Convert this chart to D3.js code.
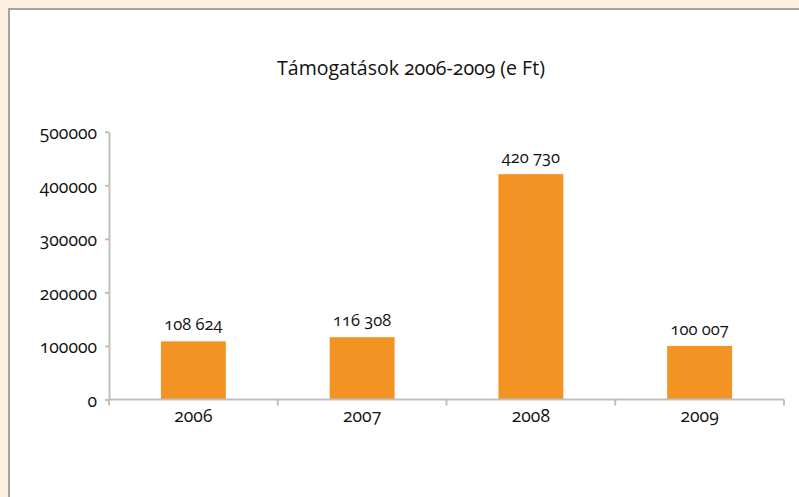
<!DOCTYPE html>
<html>
<head>
<meta charset="utf-8">
<script src="https://cdn.jsdelivr.net/npm/d3@7/dist/d3.min.js"></script>
<style>
  html, body { margin: 0; padding: 0; background: #FDEFDF; }
  svg { display: block; }
  text { font-family: "Open Sans", "Noto Sans", sans-serif; font-variant-numeric: oldstyle-nums; fill: #111; }
</style>
</head>
<body>
<svg id="chart" width="799" height="497"></svg>
<script>
// Support amounts per year (thousand Ft)
const years = ["2006", "2007", "2008", "2009"];
const amounts = [108624, 116308, 420730, 100007];
const yTicks = [0, 100000, 200000, 300000, 400000, 500000];
const title = "Támogatások 2006-2009 (e Ft)";

const svg = d3.select("#chart");
const W = 799, H = 497;

// Page frame: beige surround with a white panel
svg.append("rect").attr("x", 0).attr("y", 0).attr("width", W).attr("height", H).attr("fill", "#FDEFDF");
svg.append("rect").attr("x", 9).attr("y", 9).attr("width", W).attr("height", H)
  .attr("fill", "#fff").attr("stroke", "#A3A3A3").attr("stroke-width", 2);

const plot = { left: 109, right: 784, top: 131.7, bottom: 399.5 };

const x = d3.scaleBand().domain(years).range([plot.left, plot.right]).paddingInner(0).paddingOuter(0);
const y = d3.scaleLinear().domain([0, 500000]).range([plot.bottom, plot.top]);

// Title
svg.append("text").attr("x", 411).attr("y", 75).attr("text-anchor", "middle")
  .style("font-size", "19.5px").text(title);

// Y axis
const yAxis = svg.append("g").attr("transform", `translate(${plot.left},0)`)
  .call(d3.axisLeft(y).tickValues(yTicks).tickFormat(d3.format("d")).tickSize(4).tickSizeOuter(0).tickPadding(8));
yAxis.select(".domain").attr("stroke", "#BFBFBF").attr("stroke-width", 2);
yAxis.selectAll(".tick line").attr("stroke", "#BFBFBF").attr("stroke-width", 2);
yAxis.selectAll(".tick text").style("font-size", "17.5px").attr("fill", "#111").attr("dy", "0.4em");

// Bars (gap width 160%)
const barW = x.bandwidth() / 2.6;
svg.append("g").selectAll("rect").data(years).join("rect")
  .attr("x", d => x(d) + (x.bandwidth() - barW) / 2)
  .attr("width", barW)
  .attr("y", (d, i) => y(amounts[i]))
  .attr("height", (d, i) => plot.bottom - y(amounts[i]))
  .attr("fill", "#F29323");

// X axis with category separators
const xAxis = svg.append("g").attr("transform", `translate(0,${plot.bottom})`);
xAxis.append("line").attr("x1", plot.left).attr("x2", plot.right).attr("stroke", "#BFBFBF").attr("stroke-width", 2);
const bounds = years.map(d => x(d)).concat([plot.right]);
xAxis.selectAll("line.sep").data(bounds).join("line").attr("class", "sep")
  .attr("x1", d => d).attr("x2", d => d).attr("y1", 0).attr("y2", 6)
  .attr("stroke", "#BFBFBF").attr("stroke-width", 2);
xAxis.selectAll("text").data(years).join("text")
  .attr("x", d => x(d) + x.bandwidth() / 2).attr("y", 22)
  .attr("text-anchor", "middle").style("font-size", "17.5px").text(d => d);

// Value labels
const fmt = v => d3.format(",")(v).replace(/,/g, " ");
svg.append("g").selectAll("text").data(years).join("text")
  .attr("x", d => x(d) + x.bandwidth() / 2)
  .attr("y", (d, i) => y(amounts[i]) - 11)
  .attr("text-anchor", "middle").style("font-size", "16.5px")
  .text((d, i) => fmt(amounts[i]));
</script>
</body>
</html>
